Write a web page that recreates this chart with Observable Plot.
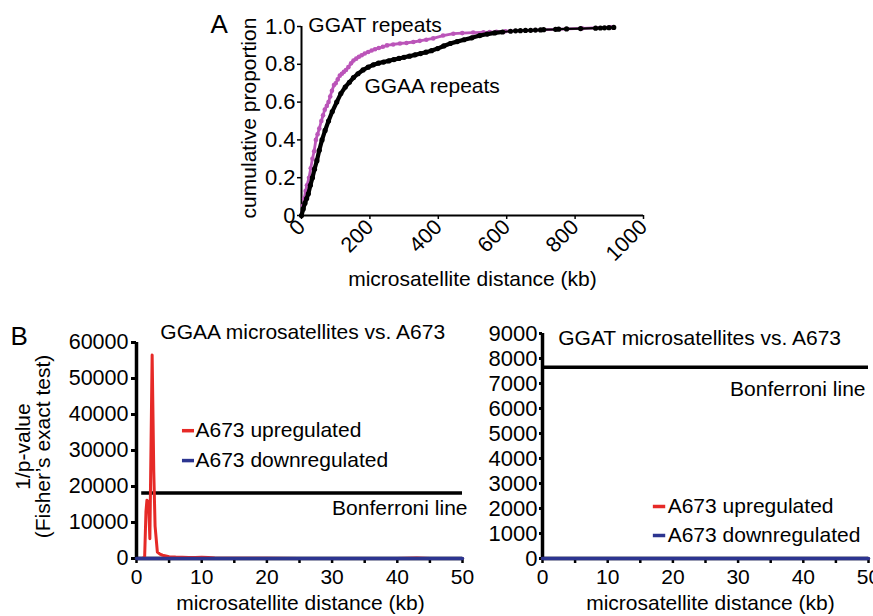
<!DOCTYPE html>
<html><head><meta charset="utf-8">
<script src="https://cdn.jsdelivr.net/npm/d3@7"></script>
<script src="https://cdn.jsdelivr.net/npm/@observablehq/plot@0.6"></script>
<style>
body{margin:0;background:#fff;}
#fig{position:relative;width:873px;height:616px;overflow:hidden;background:#fff;}
.panel{position:absolute;}
.panel svg{overflow:visible;display:block;}
</style></head><body><div id="fig">
<div class="panel" id="pa" style="left:200px;top:0px;width:460px;height:300px"></div>
<div class="panel" id="pb1" style="left:0px;top:290px;width:480px;height:326px"></div>
<div class="panel" id="pb2" style="left:470px;top:290px;width:403px;height:326px"></div>
</div>
<script>
// ---------- Panel A: cumulative distributions ----------
const ggatKb = [0, 4, 8, 12, 16, 22, 27, 32, 37, 42, 47, 52, 58, 63, 68, 74, 79, 84, 89, 95, 100, 106, 112, 118, 124, 130, 137, 145, 152, 160, 168, 176, 185, 195, 205, 215, 226, 238, 250, 268, 288, 307, 327, 346, 365, 385, 414, 444, 470, 502, 532, 550, 570, 596, 820, 904];
const ggatP = [0, 0.05, 0.09, 0.13, 0.16, 0.2, 0.25, 0.3, 0.34, 0.4, 0.43, 0.46, 0.5, 0.53, 0.56, 0.58, 0.6, 0.63, 0.66, 0.69, 0.7, 0.72, 0.74, 0.75, 0.76, 0.77, 0.785, 0.805, 0.82, 0.83, 0.84, 0.848, 0.857, 0.865, 0.873, 0.88, 0.886, 0.893, 0.9, 0.905, 0.91, 0.913, 0.918, 0.924, 0.93, 0.937, 0.952, 0.962, 0.965, 0.968, 0.969, 0.97, 0.972, 0.975, 0.99, 0.996];
const ggaaKb = [0, 5, 10, 15, 20, 26, 32, 38, 45, 52, 60, 69, 79, 90, 103, 115, 128, 140, 152, 165, 180, 195, 210, 225, 240, 255, 270, 285, 300, 316, 332, 348, 364, 380, 398, 416, 435, 455, 475, 498, 521, 543, 565, 588, 611, 626, 640, 655, 670, 684, 699, 708, 743, 752, 775, 816, 860, 874, 886, 899, 913];
const ggaaP = [0, 0.035, 0.065, 0.09, 0.115, 0.16, 0.2, 0.245, 0.29, 0.345, 0.4, 0.45, 0.5, 0.55, 0.6, 0.645, 0.68, 0.705, 0.73, 0.75, 0.77, 0.785, 0.797, 0.806, 0.812, 0.818, 0.825, 0.831, 0.837, 0.843, 0.85, 0.857, 0.864, 0.872, 0.883, 0.897, 0.91, 0.92, 0.93, 0.94, 0.952, 0.96, 0.966, 0.971, 0.975, 0.977, 0.978, 0.979, 0.98, 0.981, 0.982, 0.983, 0.985, 0.986, 0.987, 0.989, 0.991, 0.992, 0.993, 0.994, 0.995];
const aXTicks = [0, 200, 400, 600, 800, 1000];
const aYTicks = [0, 0.2, 0.4, 0.6, 0.8, 1.0];
const aSeriesLabels = ["GGAT repeats", "GGAA repeats"];
const aLabelKb = [20, 184];
const aLabelP = [0.973, 0.647];

// ---------- Panel B: 1/p-value vs distance ----------
const upKbL = [0.9, 1.25, 1.45, 1.6, 1.85, 2.05, 2.4, 2.65, 2.85, 3.2, 3.6, 4.0, 5, 6, 7, 8, 9, 10, 11, 12, 14, 17, 20, 25, 30, 35, 40, 43, 45, 50];
const upValL = [0, 400, 13000, 16200, 15500, 5500, 56500, 24000, 9000, 1800, 1200, 900, 500, 400, 350, 300, 250, 350, 250, 150, 100, 60, 40, 30, 20, 20, 30, 120, 20, 10];
const downKbL = [0, 5, 10, 15, 20, 25, 30, 35, 40, 45, 50];
const downValL = [0, 0, 0, 0, 0, 0, 0, 0, 0, 0, 0];
const upKbR = [0, 5, 10, 15, 20, 25, 30, 35, 40, 45, 50];
const upValR = [0, 0, 0, 0, 0, 0, 0, 0, 0, 0, 0];
const downKbR = [0, 5, 10, 15, 20, 25, 30, 35, 40, 45, 50];
const downValR = [0, 0, 0, 0, 0, 0, 0, 0, 0, 0, 0];
const bonferroniL = 18200, bonferroniR = 7650;
const bonfStartKbL = 0.8, bonfStartKbR = 0;
const bLeftYTicks = [0, 10000, 20000, 30000, 40000, 50000, 60000];
const bRightYTicks = [0, 1000, 2000, 3000, 4000, 5000, 6000, 7000, 8000, 9000];
const bXTicks = [0, 5, 10, 15, 20, 25, 30, 35, 40, 45, 50];
const legendLabels = ["A673 upregulated", "A673 downregulated"];
const titles = ["GGAA microsatellites vs. A673", "GGAT microsatellites vs. A673"];

const MAG = "#bb55b9", RED = "#e62a27", BLUE = "#2c3590", INK = "#000";
const FONT = "'Liberation Sans', Arial, Helvetica, sans-serif";
const baseStyle = {fontFamily: FONT, fontSize: "21px", background: "none", overflow: "visible", color: INK};
const rows = (xs, ys, kx, ky) => xs.map((v, i) => ({[kx]: v, [ky]: ys[i]}));

const ggat = rows(ggatKb, ggatP, "kb", "p");
const ggaa = rows(ggaaKb, ggaaP, "kb", "p");
const annA = aSeriesLabels.map((t, i) => ({text: t, x: aLabelKb[i], y: aLabelP[i]}));

const plotA = Plot.plot({
  width: 460, height: 300, marginLeft: 101, marginRight: 17, marginTop: 26, marginBottom: 85,
  style: baseStyle,
  x: {domain: [0, 1000]}, y: {domain: [0, 1]},
  marks: [
    Plot.axisY({ticks: aYTicks, tickSize: 4, tickPadding: 2, tickFormat: d => d === 0 ? "0" : d.toFixed(1), label: null, fontSize: 22, strokeWidth: 1.5}),
    Plot.axisX({ticks: aXTicks, tickSize: 4, tickPadding: 4, tickRotate: -45, tickFormat: d3.format("d"), label: null, fontSize: 21.5, strokeWidth: 1.5}),
    Plot.ruleX([0], {y1: 0, y2: 1, strokeWidth: 2}),
    Plot.ruleY([0], {x1: 0, x2: 1000, strokeWidth: 2}),
    Plot.line(ggat, {x: "kb", y: "p", stroke: MAG, strokeWidth: 2.8}),
    Plot.dot(ggat, {x: "kb", y: "p", r: 2.3, fill: MAG}),
    Plot.line(ggaa, {x: "kb", y: "p", stroke: "#000", strokeWidth: 2.2}),
    Plot.line(ggaa, {filter: d => d.kb <= 600, x: "kb", y: "p", stroke: "#000", strokeWidth: 4.2}),
    Plot.dot(ggaa, {x: "kb", y: "p", r: 2.6, fill: "#000"}),
    Plot.text(annA, {x: "x", y: "y", text: "text", textAnchor: "start", lineAnchor: "bottom", fontSize: 21, fill: INK}),
    Plot.text(["A"], {frameAnchor: "top-left", dx: -91, dy: -2, text: d => d, textAnchor: "start", lineAnchor: "middle", fontSize: 26, fill: INK}),
    Plot.text(["cumulative proportion"], {frameAnchor: "left", rotate: -90, dx: -52, dy: -3, text: d => d, textAnchor: "middle", lineAnchor: "middle", fontSize: 21, fill: INK}),
    Plot.text(["microsatellite distance (kb)"], {frameAnchor: "bottom", dy: 70, text: d => d, textAnchor: "middle", lineAnchor: "bottom", fontSize: 21, fill: INK})
  ]
});
document.getElementById("pa").append(plotA);

function panelB(opts) {
  const up = rows(opts.upKb, opts.upVal, "kb", "v");
  const down = rows(opts.downKb, opts.downVal, "kb", "v");
  const legend = legendLabels.map((t, i) => ({text: t, color: [RED, BLUE][i], y: opts.legY[i]}));
  return Plot.plot({
    width: opts.width, height: 326, marginLeft: opts.ml, marginRight: opts.mr, marginTop: opts.mt, marginBottom: 58,
    style: baseStyle,
    x: {domain: [0, 50]}, y: {domain: [0, opts.ymax]},
    marks: [
      Plot.axisY({ticks: opts.yTicks, tickSize: opts.ytickSize, tickPadding: opts.ytickPad, tickFormat: d3.format("d"), label: null, fontSize: opts.yFont, strokeWidth: 3}),
      Plot.axisX({ticks: bXTicks, tickSize: 5, tickPadding: 6, tickFormat: d => d % 10 === 0 ? String(d) : "", label: null, fontSize: 21, strokeWidth: 2.5}),
      Plot.ruleX([0], {y1: 0, y2: opts.ymax, strokeWidth: 3.5}),
      Plot.ruleY([0], {x1: 0, x2: 50, strokeWidth: 3.5}),
      Plot.ruleY([opts.bonf], {x1: opts.bonfStart, x2: 50, strokeWidth: 3.5}),
      Plot.line(up, {x: "kb", y: "v", stroke: RED, strokeWidth: 3}),
      Plot.line(down, {x: "kb", y: "v", stroke: BLUE, strokeWidth: 3.5}),
      Plot.ruleY(legend, {x1: opts.legX1, x2: opts.legX2, y: "y", stroke: "color", strokeWidth: 3.5}),
      Plot.text(legend, {x: opts.legTextX, y: "y", text: "text", textAnchor: "start", lineAnchor: "middle", fontSize: 21, fill: INK}),
      Plot.text([{t: "Bonferroni line"}], {x: 50, y: opts.bonfTextY, dx: opts.bonfDx, text: "t", textAnchor: "end", lineAnchor: "middle", fontSize: 21, fill: INK}),
      Plot.text([{t: opts.title}], {x: opts.titleX, y: opts.ymax, dy: opts.titleDy, text: "t", textAnchor: "middle", lineAnchor: "middle", fontSize: 21, fill: INK}),
      Plot.text(["microsatellite distance (kb)"], {frameAnchor: "bottom", dy: 44.5, dx: opts.xlabDx, text: d => d, textAnchor: "middle", lineAnchor: "middle", fontSize: 21, fill: INK}),
      ...opts.extra
    ]
  });
}

const plotB1 = panelB({
  width: 480, ml: 136, mr: 18, mt: 52, ymax: 60000, yTicks: bLeftYTicks, ytickSize: 5, ytickPad: 3, yFont: 21.5,
  upKb: upKbL, upVal: upValL, downKb: downKbL, downVal: downValL,
  bonf: bonferroniL, bonfStart: bonfStartKbL, bonfTextY: 14000, bonfDx: 5,
  legY: [35500, 27200], legX1: 7.05, legX2: 8.9, legTextX: 9.05,
  title: titles[0], titleX: 25.5, titleDy: -10.5, xlabDx: 1,
  extra: [
    Plot.text(["B"], {frameAnchor: "top-left", dx: -126, dy: -6, text: d => d, textAnchor: "start", lineAnchor: "middle", fontSize: 26, fill: INK}),
    Plot.text(["1/p-value\n(Fisher\u2019s exact test)"], {frameAnchor: "left", rotate: -90, dx: -103, dy: -4, text: d => d, textAnchor: "middle", lineAnchor: "middle", lineHeight: 0.97, fontSize: 21, fill: INK})
  ]
});
document.getElementById("pb1").append(plotB1);

const plotB2 = panelB({
  width: 403, ml: 72, mr: 5, mt: 43, ymax: 9000, yTicks: bRightYTicks, ytickSize: 3, ytickPad: 2, yFont: 22,
  upKb: upKbR, upVal: upValR, downKb: downKbR, downVal: downValR,
  bonf: bonferroniR, bonfStart: bonfStartKbR, bonfTextY: 6780, bonfDx: -3,
  legY: [2080, 920], legX1: 17.0, legX2: 18.9, legTextX: 19.2,
  title: titles[1], titleX: 24.1, titleDy: 4.5, xlabDx: 5,
  extra: []
});
document.getElementById("pb2").append(plotB2);
</script></body></html>
